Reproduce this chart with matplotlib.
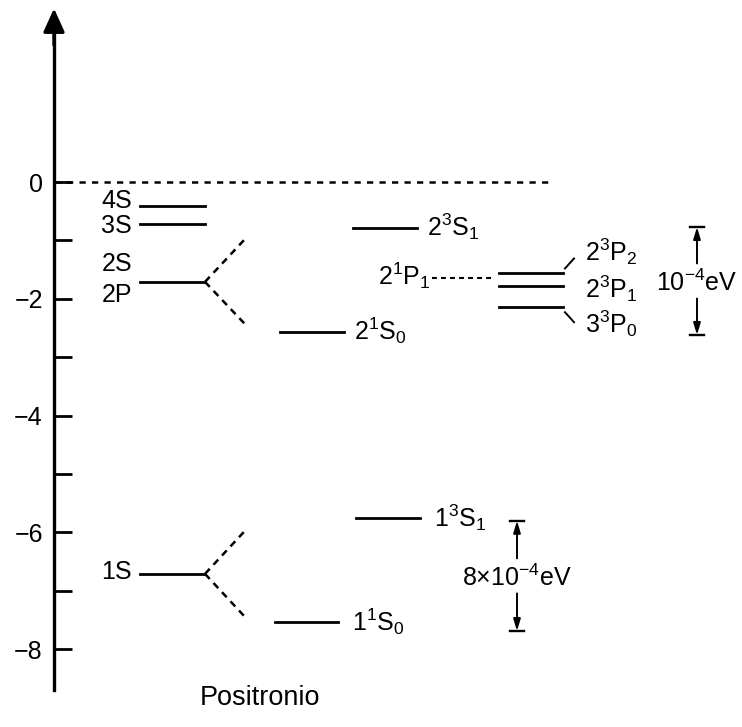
import matplotlib
matplotlib.use('Agg')
import matplotlib.pyplot as plt

plt.rcParams['font.family'] = ['Liberation Sans', 'DejaVu Sans']
plt.rcParams['mathtext.fontset'] = 'custom'
plt.rcParams['mathtext.rm'] = 'Liberation Sans'
plt.rcParams['mathtext.it'] = 'Liberation Sans'
plt.rcParams['lines.scale_dashes'] = False

# energy levels (eV)
bohr_names = ['4S', '3S', '2S2P', '1S']
bohr_E = [-0.41, -0.72, -1.71, -6.71]
bohr_labels = ['4S', '3S', '2S', '2P', '1S']
bohr_label_E = [-0.32, -0.75, -1.40, -1.93, -6.68]

n2_names = ['2$^3$S$_1$', '2$^1$S$_0$']
n2_E = [-0.79, -2.57]
triplet_names = ['2$^3$P$_2$', '2$^3$P$_1$', '3$^3$P$_0$']
triplet_E = [-1.56, -1.78, -2.14]
triplet_label_E = [-1.35, -1.99, -2.59]
p1_name = '2$^1$P$_1$'
p1_E = -1.64
n1_names = ['1$^3$S$_1$', '1$^1$S$_0$']
n1_E = [-5.75, -7.53]

split2 = (-0.94, -2.47)   # ends of the dashed fork from 2S/2P
split1 = (-5.99, -7.43)   # ends of the dashed fork from 1S
gap2 = (-0.77, -2.62, '10$^{-4}$eV')
gap1 = (-5.80, -7.69, '8×10$^{-4}$eV')

yticks = [0, -1, -2, -3, -4, -5, -6, -7, -8]
ytick_labels = ['0', '', '−2', '', '−4', '', '−6', '', '−8']

px = 58.4  # pixels per eV in the figure
fig = plt.figure(figsize=(7.42, 7.27), dpi=100)
ax = fig.add_axes([0, 0, 1, 1])
ax.set_xlim(0, 742)
ax.set_ylim(-(727 - 182) / px, 182 / px)

fs = 18
lw = 2.0

# vertical axis with arrow
ax.spines['left'].set_position(('data', 54))
ax.spines['left'].set_linewidth(2.4)
ax.spines['left'].set_bounds(-8.70, 2.6)
for s in ['top', 'right', 'bottom']:
    ax.spines[s].set_visible(False)
ax.xaxis.set_visible(False)
ax.set_yticks(yticks)
ax.set_yticklabels(ytick_labels, fontsize=fs)
ax.tick_params(axis='y', direction='in', length=13, width=2.0, pad=8)
ax.annotate('', xy=(54, 3.02), xytext=(54, 2.3),
            arrowprops=dict(arrowstyle='-|>,head_length=0.42,head_width=0.19',
                            mutation_scale=34, lw=2.4, color='black'))

# zero line
ax.plot([54, 548], [0, 0], color='black', lw=1.8, dashes=[4.5, 4.5])

# Bohr levels
for e in bohr_E:
    ax.plot([140, 205], [e, e], color='black', lw=lw)
for name, e in zip(bohr_labels, bohr_label_E):
    ax.text(132, e, name, fontsize=fs, ha='right', va='center')

# dashed forks
for top, bot, e0, xe in [(split2[0], split2[1], bohr_E[2], 247), (split1[0], split1[1], bohr_E[3], 244)]:
    ax.plot([205, xe], [e0, top], color='black', lw=1.8, dashes=[5, 4])
    ax.plot([205, xe], [e0, bot], color='black', lw=1.8, dashes=[5, 4])

# n=2 S levels
n2_x = [(353, 417), (280, 344)]
for (x0, x1), e, name in zip(n2_x, n2_E, n2_names):
    ax.plot([x0, x1], [e, e], color='black', lw=lw)
    ax.text(x1 + 10, e - 0.13, name, fontsize=fs, ha='left', va='baseline')

# n=2 P levels
for e in triplet_E:
    ax.plot([499, 563], [e, e], color='black', lw=lw)
for name, e in zip(triplet_names, triplet_label_E):
    ax.text(585, e, name, fontsize=fs, ha='left', va='baseline')
ax.plot([565, 574], [triplet_E[0] + 0.08, triplet_E[0] + 0.25], color='black', lw=1.4)
ax.plot([565, 574], [triplet_E[2] - 0.09, triplet_E[2] - 0.26], color='black', lw=1.4)
ax.plot([432, 494], [p1_E, p1_E], color='black', lw=1.5, dashes=[3.5, 3])
ax.text(430, p1_E - 0.12, p1_name, fontsize=fs, ha='right', va='baseline')

# n=1 levels
n1_x = [(356, 420), (275, 338)]
for (x0, x1), e, name in zip(n1_x, n1_E, n1_names):
    ax.plot([x0, x1], [e, e], color='black', lw=lw)
    ax.text(x1 + 14, e - 0.16, name, fontsize=fs, ha='left', va='baseline')

# splitting brackets
for x, (top, bot, txt) in [(697, gap2), (517, gap1)]:
    mid = (top + bot) / 2
    ax.text(x, mid - 0.17, txt, fontsize=fs, ha='center', va='baseline')
    ax.annotate('', xy=(x, top), xytext=(x, mid + 0.3),
                arrowprops=dict(arrowstyle='-|>,head_length=0.5,head_width=0.15',
                                mutation_scale=14, lw=1.4, color='black', shrinkA=0, shrinkB=0))
    ax.annotate('', xy=(x, bot), xytext=(x, mid - 0.3),
                arrowprops=dict(arrowstyle='-|>,head_length=0.5,head_width=0.15',
                                mutation_scale=14, lw=1.4, color='black', shrinkA=0, shrinkB=0))
    ax.plot([x - 7, x + 7], [top, top], color='black', lw=1.7)
    ax.plot([x - 7, x + 7], [bot, bot], color='black', lw=1.7)

ax.text(200, -(698 - 182) / px, 'Positronio', fontsize=19.5, ha='left', va='center')

fig.savefig('out.png', dpi=100)
